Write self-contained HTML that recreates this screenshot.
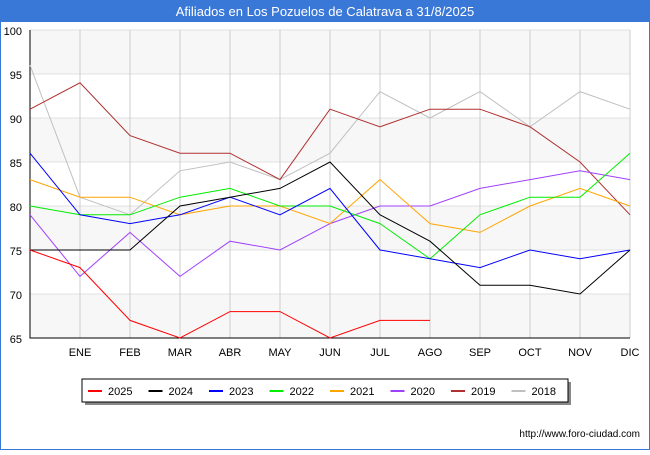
<!DOCTYPE html>
<html><head><meta charset="utf-8"><style>
body{margin:0;background:#fff;font-family:"Liberation Sans",sans-serif;}
</style></head><body>
<svg width="650" height="450" xmlns="http://www.w3.org/2000/svg" font-family="Liberation Sans, sans-serif">
<rect x="0" y="0" width="650" height="450" fill="#fff" stroke="#3a78d8" stroke-width="2"/>
<rect x="0" y="0" width="650" height="22" fill="#3a78d8"/>
<text x="325" y="16" text-anchor="middle" fill="#fff" font-size="13">Afiliados en Los Pozuelos de Calatrava a 31/8/2025</text>
<g id="plot"></g>
<text x="640" y="437" text-anchor="end" font-size="10" fill="#000">http://www.foro-ciudad.com</text>
</svg>
<script>
const categories=["","ENE","FEB","MAR","ABR","MAY","JUN","JUL","AGO","SEP","OCT","NOV","DIC"];
const yTicks=[65,70,75,80,85,90,95,100];
const seriesNames=["2025","2024","2023","2022","2021","2020","2019","2018"];
const seriesColors=["#ff0000","#000000","#0000ff","#00ee00","#ffa500","#a040ff","#b03030","#c0c0c0"];
const s2025=[75,73,67,65,68,68,65,67,67];
const s2024=[75,75,75,80,81,82,85,79,76,71,71,70,75];
const s2023=[86,79,78,79,81,79,82,75,74,73,75,74,75];
const s2022=[80,79,79,81,82,80,80,78,74,79,81,81,86];
const s2021=[83,81,81,79,80,80,78,83,78,77,80,82,80];
const s2020=[79,72,77,72,76,75,78,80,80,82,83,84,83];
const s2019=[91,94,88,86,86,83,91,89,91,91,89,85,79];
const s2018=[96,81,79,84,85,83,86,93,90,93,89,93,91];
const allSeries=[s2025,s2024,s2023,s2022,s2021,s2020,s2019,s2018];
const NS="http://www.w3.org/2000/svg";
const L=30,R=630,T=30,B=338,ymin=65,ymax=100;
const xs=i=>L+i*(R-L)/(categories.length-1);
const ys=v=>B-(v-ymin)*(B-T)/(ymax-ymin);
const g=document.getElementById('plot');
function mk(tag,a,parent){const e=document.createElementNS(NS,tag);for(const k in a)e.setAttribute(k,a[k]);(parent||g).appendChild(e);return e;}
for(let i=0;i<yTicks.length-1;i++){
  if((yTicks.length-2-i)%2===0){
    const r=mk('rect',{x:L,y:ys(yTicks[i+1]),width:R-L,height:ys(yTicks[i])-ys(yTicks[i+1]),fill:'#f7f7f7'});
    
    
  }
}
yTicks.forEach(v=>{
  const l=mk('line',{x1:L,x2:R,y1:ys(v),y2:ys(v),stroke:'#e0e0e0','stroke-width':1});
  
  
  const t=mk('text',{x:L-8,y:ys(v)+5,'text-anchor':'end','font-size':11,fill:'#000'});
  t.textContent=v;
  
  
});
categories.forEach((c,i)=>{
  if(i===0)return;
  const l=mk('line',{x1:xs(i),x2:xs(i),y1:T,y2:B,stroke:'#cccccc','stroke-width':1});
  
  
  const t=mk('text',{x:xs(i),y:B+18,'text-anchor':'middle','font-size':11,fill:'#000'});
  t.textContent=c;
  
  
});
const ax=mk('path',{d:`M${L},${T}V${B}H${R}`,fill:'none',stroke:'#000','stroke-width':1});


for(let k=allSeries.length-1;k>=0;k--){
  const d=allSeries[k].map((v,i)=>(i?'L':'M')+xs(i)+','+ys(v)).join('');
  const p=mk('path',{d:d,fill:'none',stroke:seriesColors[k],'stroke-width':1});
  
  
}
const lg=mk('g',{});


mk('rect',{x:85,y:382,width:486,height:23,fill:'#888'},lg);
mk('rect',{x:82,y:379,width:486,height:23,fill:'#fff',stroke:'#000','stroke-width':1},lg);
seriesNames.forEach((n,k)=>{
  const x0=88+k*60.5;
  const l=mk('line',{x1:x0,x2:x0+14,y1:391,y2:391,stroke:seriesColors[k],'stroke-width':2},lg);
  
  
  const t=mk('text',{x:x0+20,y:395,'font-size':11,fill:'#000'},lg);
  t.textContent=n;
  
  
});
</script>
</body></html>
